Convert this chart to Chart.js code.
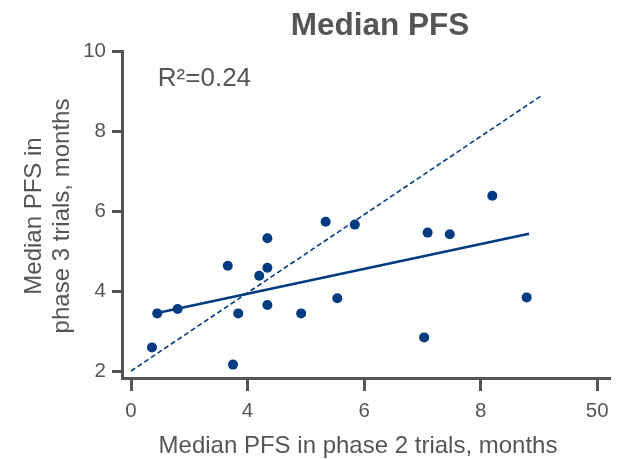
<!DOCTYPE html>
<html>
<head>
<meta charset="utf-8">
<script src="https://cdn.jsdelivr.net/npm/chart.js@4/dist/chart.umd.min.js"></script>
<style>
  html, body { margin: 0; padding: 0; background: #fff; }
  #wrap { width: 619px; height: 459px; }
</style>
</head>
<body>
<div id="wrap"><canvas id="c" width="619" height="459"></canvas></div>
<script>
// Trial pairs: position on the phase 2 axis and median PFS in phase 3 (months)
const phase2Pos = [0.36, 0.45, 0.80, 1.66, 1.75, 1.84, 2.20, 2.34, 2.34, 2.34,
                   2.92, 3.34, 3.54, 3.84, 5.09, 5.47, 6.20, 5.03, 6.79];
const phase3Pfs = [2.59, 3.44, 3.55, 4.63, 2.16, 3.44, 4.38, 5.32, 4.58, 3.65,
                   3.44, 5.73, 3.82, 5.66, 5.46, 5.42, 6.38, 2.84, 3.84];

// Fitted regression line (endpoints) and the line of equality
const fitX = [0.45, 6.83];
const fitY = [3.45, 5.43];
const equalX = [0, 7.04];
const equalY = [2, 8.88];

// Axis ticks
const xTickValues = [0, 2, 4, 6, 8];
const xTickLabels = ['0', '4', '6', '8', '50'];
const yTickValues = [2, 4, 6, 8, 10];

const chartTitle = 'Median PFS';
const xTitle = 'Median PFS in phase 2 trials, months';
const yTitleLines = ['Median PFS in', 'phase 3 trials, months'];
const rSquaredText = 'R\u00B2=0.24';

const BLUE = '#003a80';
const GREY = '#555555';
const FONT = "'Liberation Sans', Arial, sans-serif";

const toPoints = (xs, ys) => xs.map((x, i) => ({ x: x, y: ys[i] }));

// Title, axis titles and the R² note
const labels = {
  id: 'labels',
  afterDraw(chart) {
    const { ctx, scales } = chart;
    ctx.save();
    ctx.fillStyle = GREY;

    ctx.font = 'bold 31.5px ' + FONT;
    ctx.textAlign = 'center';
    ctx.textBaseline = 'alphabetic';
    ctx.fillText(chartTitle, 380, 35);

    ctx.font = '24px ' + FONT;
    ctx.fillText(xTitle, 358, 453);

    ctx.save();
    ctx.translate(0, 216);
    ctx.rotate(-Math.PI / 2);
    ctx.textBaseline = 'middle';
    ctx.fillText(yTitleLines[0], 0, 34);
    ctx.fillText(yTitleLines[1], 0, 62);
    ctx.restore();

    ctx.font = '26px ' + FONT;
    ctx.textAlign = 'left';
    ctx.textBaseline = 'alphabetic';
    ctx.fillText(rSquaredText, scales.x.getPixelForValue(0.46), scales.y.getPixelForValue(9.13));
    ctx.restore();
  }
};

new Chart(document.getElementById('c'), {
  type: 'scatter',
  data: {
    datasets: [
      {
        label: 'Trials',
        data: toPoints(phase2Pos, phase3Pfs),
        backgroundColor: BLUE,
        borderColor: BLUE,
        pointRadius: 5,
        pointHoverRadius: 5,
        borderWidth: 0,
        order: 0
      },
      {
        label: 'Regression',
        type: 'line',
        data: toPoints(fitX, fitY),
        borderColor: BLUE,
        borderWidth: 2.5,
        pointRadius: 0,
        fill: false,
        order: 1
      },
      {
        label: 'Equality',
        type: 'line',
        data: toPoints(equalX, equalY),
        borderColor: BLUE,
        borderWidth: 1.6,
        borderDash: [5, 3],
        pointRadius: 0,
        fill: false,
        order: 2
      }
    ]
  },
  options: {
    responsive: false,
    animation: false,
    layout: { padding: { left: 0, right: 9, top: 51, bottom: 0 } },
    plugins: {
      legend: { display: false },
      tooltip: { enabled: false },
      title: { display: false }
    },
    scales: {
      x: {
        type: 'linear',
        min: -0.155,
        max: 8.22,
        afterBuildTicks(s) { s.ticks = xTickValues.map(v => ({ value: v })); },
        afterFit(s) { s.height = 81; },
        grid: {
          drawOnChartArea: false,
          drawTicks: true,
          tickLength: 13,
          tickWidth: 3,
          tickColor: GREY
        },
        border: { display: true, color: GREY, width: 3 },
        ticks: {
          color: GREY,
          font: { family: FONT, size: 20.5 },
          padding: 8,
          maxRotation: 0,
          callback(value) {
            const i = xTickValues.indexOf(value);
            return i >= 0 ? xTickLabels[i] : '';
          }
        }
      },
      y: {
        type: 'linear',
        min: 1.825,
        max: 10,
        afterBuildTicks(s) { s.ticks = yTickValues.map(v => ({ value: v })); },
        afterFit(s) { s.width = 122; },
        grid: {
          drawOnChartArea: false,
          drawTicks: true,
          tickLength: 10,
          tickWidth: 3,
          tickColor: GREY
        },
        border: { display: true, color: GREY, width: 3 },
        ticks: {
          color: GREY,
          font: { family: FONT, size: 20.5 },
          padding: 6
        }
      }
    }
  },
  plugins: [labels]
});
</script>
</body>
</html>
